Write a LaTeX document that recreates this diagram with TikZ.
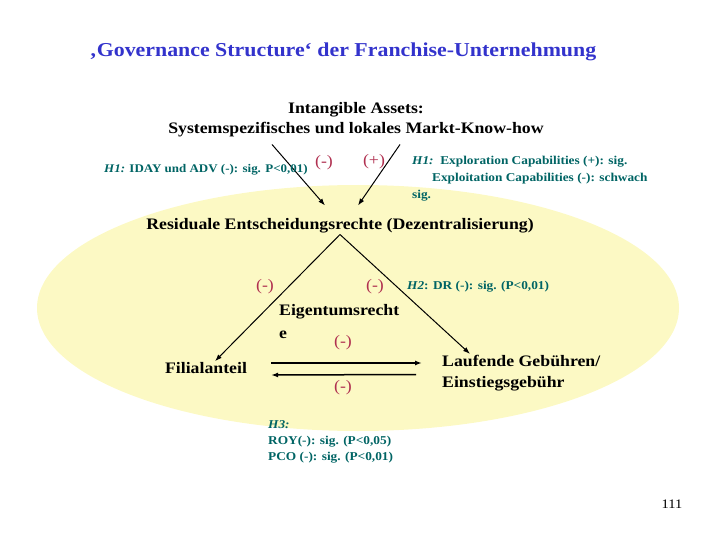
\documentclass[tikz,border=0pt]{standalone}
\usepackage{fontspec}
\setmainfont[FakeStretch=1.11]{Liberation Serif}
\usetikzlibrary{arrows.meta}
\definecolor{titleblue}{RGB}{51,51,204}
\definecolor{hypteal}{RGB}{0,100,100}
\definecolor{signred}{RGB}{176,48,80}
\definecolor{paleyellow}{RGB}{252,249,196}

\begin{document}
\begin{tikzpicture}[x=1pt,y=-1pt,
  concept/.style={font=\fontsize{16}{20}\selectfont\bfseries,align=center,inner sep=1pt},
  hyp/.style={text=hypteal,font=\fontsize{12}{16}\selectfont\bfseries,align=left,inner sep=0pt},
  sign/.style={text=signred,font=\fontsize{16}{18}\selectfont,inner sep=0pt},
  link/.style={-{Latex[length=7pt,width=5pt]},line width=1pt}]
\useasboundingbox (0,0) rectangle (720,540);
\fill[paleyellow] (358,308) ellipse [x radius=321, y radius=123];
\node[font=\fontsize{19.7}{24}\selectfont\bfseries,text=titleblue,anchor=west] (title) at (86,52) {‚Governance Structure‘ der Franchise-Unternehmung};
\node[concept] (assets) at (356,120) {Intangible Assets:\\Systemspezifisches und lokales Markt-Know-how};
\node[concept] (rights) at (340,226) {Residuale Entscheidungsrechte (Dezentralisierung)};
\node[concept,anchor=west,align=left,font=\fontsize{16}{23}\selectfont\bfseries] (owner) at (278,322) {Eigentumsrecht\\e};
\node[concept] (branch) at (206,368) {Filialanteil};
\node[concept,anchor=west,align=left,font=\fontsize{16}{21}\selectfont\bfseries] (fees) at (441,373) {Laufende Gebühren/\\Einstiegsgebühr};
\draw[link] ([shift={(-84,6)}]assets.south) -- ([shift={(-15,-12)}]rights.north);
\draw[link] ([shift={(44,6)}]assets.south) -- ([shift={(18,-12)}]rights.north);
\draw[link] (rights.south) -- ([xshift=9]branch.north);
\draw[link] (rights.south) -- ([xshift=29]fees.north west);
\draw[link,line width=1.5pt] ([shift={(23,-5)}]branch.east) -- ([shift={(-19,-10)}]fees.west);
\draw[link,line width=1.5pt] ([shift={(-25,1.5)}]fees.west) -- ([shift={(23,7)}]branch.east);
\node[sign] (s1) at (324,163) {(-)};
\node[sign] (s2) at (374,162) {(+)};
\node[sign] (s3) at (265,287) {(-)};
\node[sign] (s4) at (375,287) {(-)};
\node[sign] (s5) at (343,343) {(-)};
\node[sign] (s6) at (343,388) {(-)};
\node[hyp,anchor=west,font=\fontsize{11.7}{16}\selectfont\bfseries] (h1a) at (104,170) {\textit{H1:} IDAY und ADV (-): sig. P<0,01)};
\node[hyp,anchor=north west,font=\fontsize{12}{17}\selectfont\bfseries] (h1b) at (412,156) {\textit{H1:}\ \ Exploration Capabilities (+): sig.\\\hspace*{20pt}Exploitation Capabilities (-): schwach\\sig.};
\node[hyp,anchor=west] (h2) at (407,287) {\textit{H2}: DR (-): sig. (P<0,01)};
\node[hyp,anchor=north west,font=\fontsize{12}{16}\selectfont\bfseries] (h3) at (268,420) {\textit{H3:}\\ROY(-): sig. (P<0,05)\\PCO (-): sig. (P<0,01)};
\node[font=\fontsize{13}{15}\selectfont] (page) at (672,504) {111};
\end{tikzpicture}
\end{document}
